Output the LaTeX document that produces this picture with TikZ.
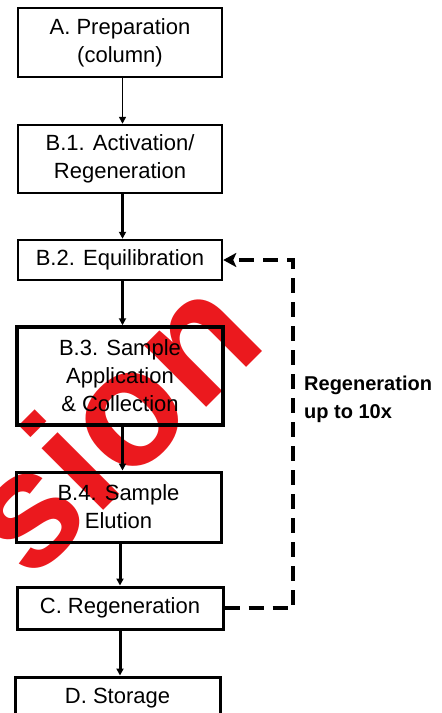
\documentclass[tikz,border=0pt]{standalone}
\usepackage{fontspec}
\setmainfont{Liberation Sans}
\usetikzlibrary{arrows.meta}
\definecolor{wmred}{RGB}{235,25,30}
\begin{document}
\begin{tikzpicture}[x=1pt,y=-1pt,
  box/.style={draw, line width=2.5pt, minimum width=204pt, inner sep=0pt,
    align=center, font=\fontsize{22}{28}\selectfont},
  flow/.style={-{Triangle[width=7pt,length=7pt]}, line width=2.5pt},
  loop/.style={line width=4pt, dash pattern=on 15pt off 9pt},
  wmtext/.style={text=wmred, font=\bfseries\fontsize{165}{165}\selectfont, inner sep=0pt},
  lbl/.style={align=left, inner sep=0pt, font=\bfseries\fontsize{20}{28}\selectfont}]
\useasboundingbox (0,0) rectangle (442,713);
\clip (0,0) rectangle (442,713);
% watermark
\node[wmtext, rotate=45, anchor=base west] (wm) at (30,584) {sion};
% boxes
\node[box, minimum height=69pt] (A) at (120,42.5) {A. Preparation\\(column)};
\node[box, minimum height=68pt] (B1) at (120,159) {B.1. Activation/\\Regeneration};
\node[box, minimum height=40pt] (B2) at (120,260) {B.2. Equilibration};
\node[box, minimum height=98pt, line width=3.5pt, minimum width=206pt] (B3) at (120,376) {B.3. Sample\\Application\\\& Collection};
\node[box, minimum height=70pt, line width=3pt, minimum width=205pt] (B4) at (118.5,507) {B.4. Sample\\Elution};
\node[box, minimum height=42pt, line width=3pt, minimum width=206pt] (C) at (120,608) {C. Regeneration};
\node[box, minimum height=42pt, line width=3pt, minimum width=205pt] (D) at (117.5,698) {D. Storage};
% connectors
\draw[flow, line width=1.5pt] ([xshift=2.5pt]A.south) -- ([xshift=2.5pt]B1.north);
\draw[flow] ([xshift=2.5pt]B1.south) -- ([xshift=2.5pt]B2.north);
\draw[flow] ([xshift=2.5pt]B2.south) -- ([xshift=2.5pt]B3.north);
\draw[flow, line width=3pt] ([xshift=2.5pt]B3.south) -- ([xshift=4pt]B4.north);
\draw[flow, line width=3pt] ([xshift=1.5pt]B4.south) -- (C.north);
\draw[flow, line width=3pt] (C.south) -- ([xshift=2.5pt]D.north);
\coordinate (cb) at (293,608);
\coordinate (ct) at (293,260);
\draw[loop, -{Stealth[length=13pt,width=14pt,inset=3pt]}] (C.east) -- (cb) -- (ct) -- (B2.east);
\node[lbl, anchor=base west] (L) at (304,418) {Regeneration\\up to 10x};
\end{tikzpicture}
\end{document}
